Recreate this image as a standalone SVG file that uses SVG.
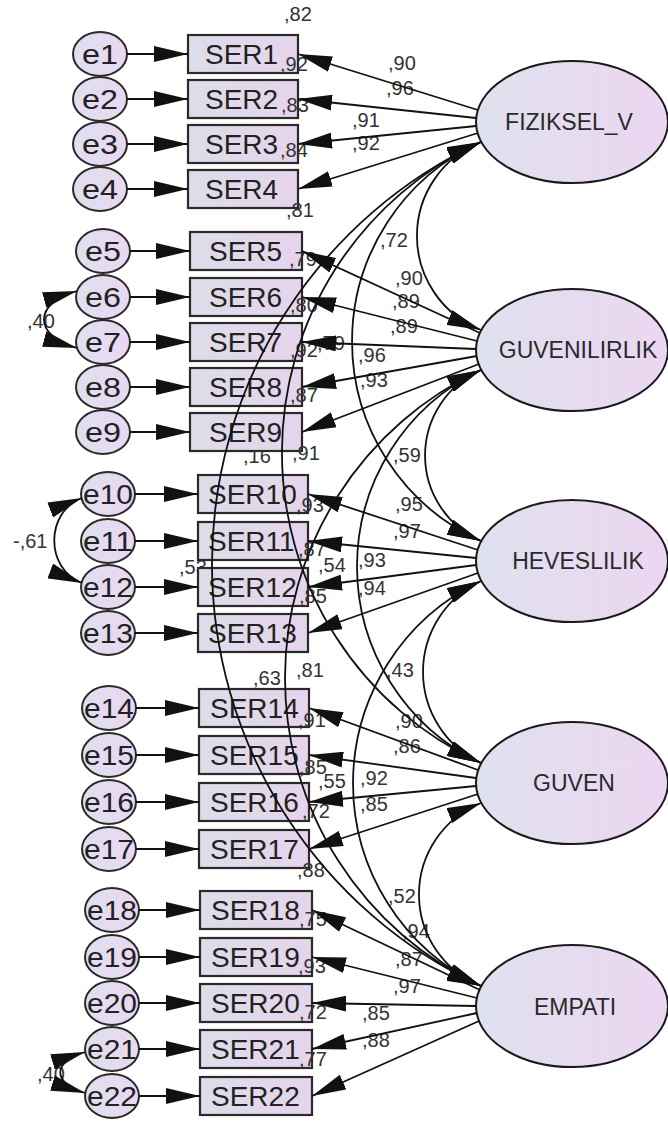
<svg xmlns="http://www.w3.org/2000/svg" width="668" height="1122" viewBox="0 0 668 1122">
  <defs>
    <linearGradient id="gLat" x1="0" y1="0" x2="1" y2="0">
      <stop offset="0" stop-color="#dfe1ee"/>
      <stop offset="1" stop-color="#ecd6f1"/>
    </linearGradient>
    <linearGradient id="gObs" x1="0" y1="0" x2="1" y2="0">
      <stop offset="0" stop-color="#dcdde9"/>
      <stop offset="1" stop-color="#e6d4ec"/>
    </linearGradient>
    <linearGradient id="gErr" x1="0" y1="0" x2="1" y2="0">
      <stop offset="0" stop-color="#dfdff0"/>
      <stop offset="1" stop-color="#ead8f0"/>
    </linearGradient>
    <marker id="ah" viewBox="0 0 34 16" refX="34" refY="8" markerWidth="34" markerHeight="16" markerUnits="userSpaceOnUse" orient="auto-start-reverse">
      <path d="M0,0 L34,8 L0,16 z" fill="#111"/>
    </marker>
    <style>
      .lat { fill: url(#gLat); stroke: #1a1a1a; stroke-width: 2; }
      .obs { fill: url(#gObs); stroke: #2a2a2a; stroke-width: 2.2; }
      .err { fill: url(#gErr); stroke: #2a2a2a; stroke-width: 2; }
      text { font-family: "Liberation Sans", Arial, sans-serif; }
      .obs-t { font-size: 28px; fill: #222; }
      .err-t { font-size: 28px; fill: #222; text-anchor: middle; }
      .lat-t { font-size: 23px; fill: #2a2a2a; text-anchor: middle; }
      .num { font-size: 20px; fill: #333; }
      .arr { fill: none; stroke: #111; stroke-width: 1.8; marker-end: url(#ah); }
      .cov { fill: none; stroke: #111; stroke-width: 1.8; marker-start: url(#ah); marker-end: url(#ah); }
    </style>
  </defs>

  <rect width="668" height="1122" fill="#ffffff"/>

  <!-- factor covariance values (sit beneath the indicator boxes) -->
  <g id="cov-labels" class="num">
    <text x="380" y="247">,72</text>
    <text x="393" y="462">,59</text>
    <text x="386" y="677">,43</text>
    <text x="388" y="903">,52</text>
    <text x="317" y="350">,79</text>
    <text x="318" y="572">,54</text>
    <text x="318" y="788">,55</text>
    <text x="243" y="463">,16</text>
    <text x="253" y="685">,63</text>
    <text x="179" y="574">,53</text>
    <text x="27" y="328">,40</text>
    <text x="13" y="548">-,61</text>
    <text x="37" y="1081">,40</text>
  </g>

  <!-- error terms -->
  <g id="e1"><ellipse class="err" cx="100" cy="54" rx="27" ry="22"/><text class="err-t" x="100" y="64" textLength="36" lengthAdjust="spacingAndGlyphs">e1</text></g>
  <g id="e2"><ellipse class="err" cx="100" cy="99" rx="27" ry="22"/><text class="err-t" x="100" y="109" textLength="36" lengthAdjust="spacingAndGlyphs">e2</text></g>
  <g id="e3"><ellipse class="err" cx="100" cy="144" rx="27" ry="22"/><text class="err-t" x="100" y="154" textLength="36" lengthAdjust="spacingAndGlyphs">e3</text></g>
  <g id="e4"><ellipse class="err" cx="100" cy="189" rx="27" ry="22"/><text class="err-t" x="100" y="199" textLength="36" lengthAdjust="spacingAndGlyphs">e4</text></g>
  <g id="e5"><ellipse class="err" cx="103" cy="251" rx="27" ry="22"/><text class="err-t" x="103" y="261" textLength="36" lengthAdjust="spacingAndGlyphs">e5</text></g>
  <g id="e6"><ellipse class="err" cx="103" cy="297" rx="27" ry="22"/><text class="err-t" x="103" y="307" textLength="36" lengthAdjust="spacingAndGlyphs">e6</text></g>
  <g id="e7"><ellipse class="err" cx="103" cy="342" rx="27" ry="22"/><text class="err-t" x="103" y="352" textLength="36" lengthAdjust="spacingAndGlyphs">e7</text></g>
  <g id="e8"><ellipse class="err" cx="103" cy="387" rx="27" ry="22"/><text class="err-t" x="103" y="397" textLength="36" lengthAdjust="spacingAndGlyphs">e8</text></g>
  <g id="e9"><ellipse class="err" cx="103" cy="432" rx="27" ry="22"/><text class="err-t" x="103" y="442" textLength="36" lengthAdjust="spacingAndGlyphs">e9</text></g>
  <g id="e10"><ellipse class="err" cx="108" cy="494" rx="27" ry="22"/><text class="err-t" x="108" y="504" textLength="50" lengthAdjust="spacingAndGlyphs">e10</text></g>
  <g id="e11"><ellipse class="err" cx="108" cy="541" rx="27" ry="22"/><text class="err-t" x="108" y="551" textLength="50" lengthAdjust="spacingAndGlyphs">e11</text></g>
  <g id="e12"><ellipse class="err" cx="108" cy="587" rx="27" ry="22"/><text class="err-t" x="108" y="597" textLength="50" lengthAdjust="spacingAndGlyphs">e12</text></g>
  <g id="e13"><ellipse class="err" cx="108" cy="633" rx="27" ry="22"/><text class="err-t" x="108" y="643" textLength="50" lengthAdjust="spacingAndGlyphs">e13</text></g>
  <g id="e14"><ellipse class="err" cx="109" cy="708" rx="27" ry="22"/><text class="err-t" x="109" y="718" textLength="50" lengthAdjust="spacingAndGlyphs">e14</text></g>
  <g id="e15"><ellipse class="err" cx="109" cy="755" rx="27" ry="22"/><text class="err-t" x="109" y="765" textLength="50" lengthAdjust="spacingAndGlyphs">e15</text></g>
  <g id="e16"><ellipse class="err" cx="109" cy="802" rx="27" ry="22"/><text class="err-t" x="109" y="812" textLength="50" lengthAdjust="spacingAndGlyphs">e16</text></g>
  <g id="e17"><ellipse class="err" cx="109" cy="849" rx="27" ry="22"/><text class="err-t" x="109" y="859" textLength="50" lengthAdjust="spacingAndGlyphs">e17</text></g>
  <g id="e18"><ellipse class="err" cx="112" cy="910" rx="27" ry="22"/><text class="err-t" x="112" y="920" textLength="50" lengthAdjust="spacingAndGlyphs">e18</text></g>
  <g id="e19"><ellipse class="err" cx="112" cy="957" rx="27" ry="22"/><text class="err-t" x="112" y="967" textLength="50" lengthAdjust="spacingAndGlyphs">e19</text></g>
  <g id="e20"><ellipse class="err" cx="112" cy="1003" rx="27" ry="22"/><text class="err-t" x="112" y="1013" textLength="50" lengthAdjust="spacingAndGlyphs">e20</text></g>
  <g id="e21"><ellipse class="err" cx="112" cy="1049" rx="27" ry="22"/><text class="err-t" x="112" y="1059" textLength="50" lengthAdjust="spacingAndGlyphs">e21</text></g>
  <g id="e22"><ellipse class="err" cx="112" cy="1096" rx="27" ry="22"/><text class="err-t" x="112" y="1106" textLength="50" lengthAdjust="spacingAndGlyphs">e22</text></g>

  <!-- observed indicators -->
  <g id="SER1"><rect class="obs" x="188" y="35" width="110" height="38"/><text class="obs-t" x="205" y="64">SER1</text></g>
  <g id="SER2"><rect class="obs" x="188" y="80" width="110" height="38"/><text class="obs-t" x="205" y="109">SER2</text></g>
  <g id="SER3"><rect class="obs" x="188" y="125" width="110" height="38"/><text class="obs-t" x="205" y="154">SER3</text></g>
  <g id="SER4"><rect class="obs" x="188" y="170" width="110" height="38"/><text class="obs-t" x="205" y="199">SER4</text></g>
  <g id="SER5"><rect class="obs" x="190" y="232" width="112" height="38"/><text class="obs-t" x="209" y="261">SER5</text></g>
  <g id="SER6"><rect class="obs" x="190" y="278" width="112" height="38"/><text class="obs-t" x="209" y="307">SER6</text></g>
  <g id="SER7"><rect class="obs" x="190" y="323" width="112" height="38"/><text class="obs-t" x="209" y="352">SER7</text></g>
  <g id="SER8"><rect class="obs" x="190" y="368" width="112" height="38"/><text class="obs-t" x="209" y="397">SER8</text></g>
  <g id="SER9"><rect class="obs" x="190" y="413" width="112" height="38"/><text class="obs-t" x="209" y="442">SER9</text></g>
  <g id="SER10"><rect class="obs" x="198" y="475" width="110" height="38"/><text class="obs-t" x="208" y="504">SER10</text></g>
  <g id="SER11"><rect class="obs" x="198" y="522" width="110" height="38"/><text class="obs-t" x="208" y="551">SER11</text></g>
  <g id="SER12"><rect class="obs" x="198" y="568" width="110" height="38"/><text class="obs-t" x="208" y="597">SER12</text></g>
  <g id="SER13"><rect class="obs" x="198" y="614" width="110" height="38"/><text class="obs-t" x="208" y="643">SER13</text></g>
  <g id="SER14"><rect class="obs" x="199" y="689" width="110" height="38"/><text class="obs-t" x="210" y="718">SER14</text></g>
  <g id="SER15"><rect class="obs" x="199" y="736" width="110" height="38"/><text class="obs-t" x="210" y="765">SER15</text></g>
  <g id="SER16"><rect class="obs" x="199" y="783" width="110" height="38"/><text class="obs-t" x="210" y="812">SER16</text></g>
  <g id="SER17"><rect class="obs" x="199" y="830" width="110" height="38"/><text class="obs-t" x="210" y="859">SER17</text></g>
  <g id="SER18"><rect class="obs" x="200" y="891" width="112" height="38"/><text class="obs-t" x="211" y="920">SER18</text></g>
  <g id="SER19"><rect class="obs" x="200" y="938" width="112" height="38"/><text class="obs-t" x="211" y="967">SER19</text></g>
  <g id="SER20"><rect class="obs" x="200" y="984" width="112" height="38"/><text class="obs-t" x="211" y="1013">SER20</text></g>
  <g id="SER21"><rect class="obs" x="200" y="1030" width="112" height="38"/><text class="obs-t" x="211" y="1059">SER21</text></g>
  <g id="SER22"><rect class="obs" x="200" y="1077" width="112" height="38"/><text class="obs-t" x="211" y="1106">SER22</text></g>

  <!-- latent factors -->
  <g id="FIZIKSEL_V"><ellipse class="lat" cx="572" cy="122" rx="96" ry="61"/><text class="lat-t" x="569" y="130">FIZIKSEL_V</text></g>
  <g id="GUVENILIRLIK"><ellipse class="lat" cx="572" cy="350" rx="96" ry="61"/><text class="lat-t" x="578" y="358">GUVENILIRLIK</text></g>
  <g id="HEVESLILIK"><ellipse class="lat" cx="572" cy="561" rx="96" ry="61"/><text class="lat-t" x="578" y="569">HEVESLILIK</text></g>
  <g id="GUVEN"><ellipse class="lat" cx="572" cy="783" rx="96" ry="61"/><text class="lat-t" x="574" y="791">GUVEN</text></g>
  <g id="EMPATI"><ellipse class="lat" cx="572" cy="1006" rx="96" ry="61"/><text class="lat-t" x="575" y="1015">EMPATI</text></g>

  <!-- squared multiple correlations -->
  <g id="r2-labels" class="num">
    <text x="284" y="21">,82</text>
    <text x="280" y="71">,92</text>
    <text x="281" y="112">,83</text>
    <text x="280" y="157">,84</text>
    <text x="286" y="217">,81</text>
    <text x="289" y="266">,79</text>
    <text x="290" y="312">,80</text>
    <text x="290" y="357">,92</text>
    <text x="290" y="402">,87</text>
    <text x="292" y="460">,91</text>
    <text x="296" y="512">,93</text>
    <text x="298" y="556">,87</text>
    <text x="299" y="603">,85</text>
    <text x="296" y="677">,81</text>
    <text x="298" y="727">,91</text>
    <text x="299" y="774">,85</text>
    <text x="302" y="818">,72</text>
    <text x="297" y="877">,88</text>
    <text x="299" y="926">,75</text>
    <text x="298" y="973">,93</text>
    <text x="299" y="1019">,72</text>
    <text x="299" y="1066">,77</text>
  </g>

  <!-- standardized loadings -->
  <g id="loading-labels" class="num">
    <text x="388" y="70">,90</text>
    <text x="386" y="95">,96</text>
    <text x="352" y="127">,91</text>
    <text x="352" y="150">,92</text>
    <text x="395" y="285">,90</text>
    <text x="392" y="308">,89</text>
    <text x="390" y="333">,89</text>
    <text x="358" y="362">,96</text>
    <text x="360" y="387">,93</text>
    <text x="395" y="511">,95</text>
    <text x="393" y="538">,97</text>
    <text x="358" y="567">,93</text>
    <text x="358" y="595">,94</text>
    <text x="395" y="728">,90</text>
    <text x="393" y="753">,86</text>
    <text x="360" y="785">,92</text>
    <text x="360" y="811">,85</text>
    <text x="402" y="938">,94</text>
    <text x="395" y="966">,87</text>
    <text x="393" y="993">,97</text>
    <text x="362" y="1020">,85</text>
    <text x="362" y="1047">,88</text>
  </g>

  <g id="connectors">
    <!-- error -> indicator -->
    <g class="err-paths">
      <path class="arr" d="M127,54 L188,54"/>
      <path class="arr" d="M127,99 L188,99"/>
      <path class="arr" d="M127,144 L188,144"/>
      <path class="arr" d="M127,189 L188,189"/>
      <path class="arr" d="M130,251 L190,251"/>
      <path class="arr" d="M130,297 L190,297"/>
      <path class="arr" d="M130,342 L190,342"/>
      <path class="arr" d="M130,387 L190,387"/>
      <path class="arr" d="M130,432 L190,432"/>
      <path class="arr" d="M135,494 L198,494"/>
      <path class="arr" d="M135,541 L198,541"/>
      <path class="arr" d="M135,587 L198,587"/>
      <path class="arr" d="M135,633 L198,633"/>
      <path class="arr" d="M136,708 L199,708"/>
      <path class="arr" d="M136,755 L199,755"/>
      <path class="arr" d="M136,802 L199,802"/>
      <path class="arr" d="M136,849 L199,849"/>
      <path class="arr" d="M139,910 L200,910"/>
      <path class="arr" d="M139,957 L200,957"/>
      <path class="arr" d="M139,1003 L200,1003"/>
      <path class="arr" d="M139,1049 L200,1049"/>
      <path class="arr" d="M139,1096 L200,1096"/>
    </g>
    <!-- factor -> indicator -->
    <g class="load-paths">
      <path class="arr" d="M478,110 L298,54"/>
      <path class="arr" d="M476,118 L298,99"/>
      <path class="arr" d="M476,126 L298,144"/>
      <path class="arr" d="M478,133 L298,189"/>
      <path class="arr" d="M480,333 L302,251"/>
      <path class="arr" d="M477,341 L302,297"/>
      <path class="arr" d="M476,349 L302,342"/>
      <path class="arr" d="M477,356 L302,387"/>
      <path class="arr" d="M479,364 L302,432"/>
      <path class="arr" d="M478,550 L308,494"/>
      <path class="arr" d="M476,558 L308,541"/>
      <path class="arr" d="M476,565 L308,587"/>
      <path class="arr" d="M478,573 L308,633"/>
      <path class="arr" d="M478,770 L309,708"/>
      <path class="arr" d="M476,778 L309,755"/>
      <path class="arr" d="M476,786 L309,802"/>
      <path class="arr" d="M478,794 L309,849"/>
      <path class="arr" d="M480,990 L312,910"/>
      <path class="arr" d="M477,998 L312,957"/>
      <path class="arr" d="M476,1006 L312,1003"/>
      <path class="arr" d="M477,1013 L312,1049"/>
      <path class="arr" d="M479,1021 L312,1096"/>
    </g>
    <!-- factor covariances -->
    <g class="cov-paths">
      <path class="cov" d="M481,142 A101,101 0 0 0 481,330"/>
      <path class="cov" d="M481,370 A93.3,93.3 0 0 0 481,541"/>
      <path class="cov" d="M481,581 A100.4,100.4 0 0 0 481,763"/>
      <path class="cov" d="M481,803 A98.5,98.5 0 0 0 481,986"/>
      <path class="cov" d="M481,142 A218.8,218.8 0 0 0 481,541"/>
      <path class="cov" d="M481,370 A217.7,217.7 0 0 0 481,763"/>
      <path class="cov" d="M481,581 A224.2,224.2 0 0 0 481,986"/>
      <path class="cov" d="M481,142 A341.7,341.7 0 0 0 481,763"/>
      <path class="cov" d="M481,370 A340,340 0 0 0 481,986"/>
      <path class="cov" d="M481,142 A465.5,465.5 0 0 0 481,986"/>
    </g>
    <!-- correlated errors -->
    <g class="err-cov-paths">
      <path class="cov" d="M77,291 C33,303 33,336 77,348"/>
      <path class="cov" d="M82,498 C45,512 45,569 82,583"/>
      <path class="cov" d="M85,1052 C52,1062 52,1083 85,1093"/>
    </g>
  </g>
</svg>
